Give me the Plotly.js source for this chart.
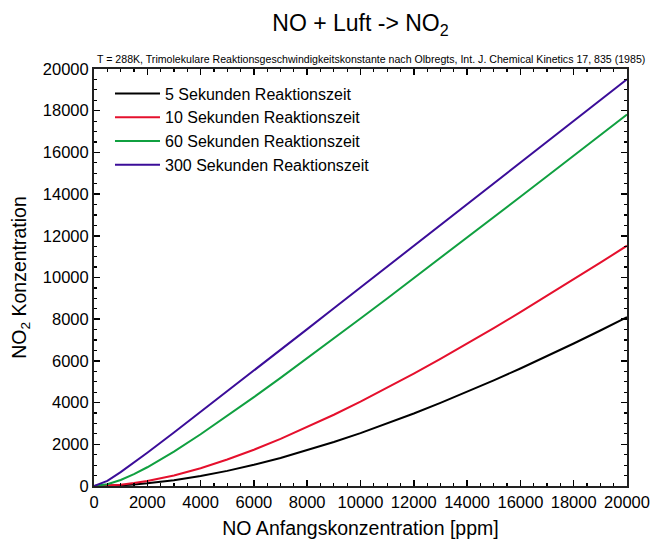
<!DOCTYPE html>
<html>
<head>
<meta charset="utf-8">
<script src="https://cdn.plot.ly/plotly-3.0.1.min.js"></script>
<style>html,body{margin:0;padding:0;background:#fff;}#chart{width:656px;height:545px;}</style>
</head>
<body>
<div id="chart"></div>
<script>
// NO initial concentration [ppm]
const noStart = [0, 500, 1000, 1500, 2000, 3000, 4000, 5000, 6000, 7000, 8000, 9000, 10000,
  11000, 12000, 13000, 14000, 15000, 16000, 17000, 18000, 19000, 20000];
// NO2 concentration, per reaction time
const no2_5s = [0, 8, 33, 73, 127, 278, 479, 726, 1017, 1346, 1711, 2109, 2537,
  2994, 3477, 3985, 4515, 5066, 5637, 6227, 6834, 7457, 8095];
const no2_10s = [0, 16, 64, 139, 239, 508, 855, 1269, 1739, 2257, 2819, 3417, 4048,
  4707, 5392, 6100, 6828, 7574, 8337, 9115, 9906, 10710, 11525];
const no2_60s = [0, 85, 290, 569, 899, 1651, 2480, 3355, 4260, 5185, 6124, 7074, 8031,
  8996, 9965, 10938, 11914, 12893, 13875, 14858, 15843, 16829, 17817];
const no2_300s = [0, 249, 664, 1122, 1597, 2568, 3552, 4541, 5534, 6529, 7525, 8522, 9519,
  10517, 11515, 12514, 13513, 14511, 15510, 16510, 17509, 18508, 19507];
const seriesNames = ["5 Sekunden Reaktionszeit", "10 Sekunden Reaktionszeit",
  "60 Sekunden Reaktionszeit", "300 Sekunden Reaktionszeit"];
const seriesColors = ["#000000", "#e5102d", "#10a040", "#3b0d99"];
const seriesData = [no2_5s, no2_10s, no2_60s, no2_300s];

const traces = seriesData.map((ys, i) => ({
  x: noStart, y: ys, type: "scatter", mode: "lines", name: seriesNames[i],
  line: {color: seriesColors[i], width: 2}
}));

const font = "Arial, 'Liberation Sans', sans-serif";
const axisCommon = {
  range: [0, 20000], dtick: 2000, tick0: 0, tickformat: "d", ticks: "inside", ticklen: 6, tickwidth: 1.5,
  tickcolor: "#000", showline: true, linecolor: "#222", linewidth: 2, mirror: "allticks",
  showgrid: false, zeroline: false, tickfont: {family: font, size: 16.5, color: "#000"},
  minor: {dtick: 500, ticks: "inside", ticklen: 3, tickwidth: 1.2, tickcolor: "#000", showgrid: false}
};

const layout = {
  width: 656, height: 545,
  margin: {l: 94, r: 29, t: 69, b: 59},
  paper_bgcolor: "#fff", plot_bgcolor: "#fff",
  font: {family: font, color: "#000"},
  title: {text: "NO + Luft -> NO<sub>2</sub>", font: {family: font, size: 23, color: "#000"},
    x: 0.5, xref: "paper", xanchor: "center", y: 0.958, yref: "container", yanchor: "middle"},
  xaxis: Object.assign({}, axisCommon, {
    title: {text: "NO Anfangskonzentration [ppm]", font: {family: font, size: 19.5, color: "#000"}, standoff: 12}
  }),
  yaxis: Object.assign({}, axisCommon, {
    title: {text: "NO<sub>2</sub> Konzentration", font: {family: font, size: 19.5, color: "#000"}, standoff: 11}
  }),
  showlegend: true,
  legend: {x: 0.03, y: 0.982, xanchor: "left", yanchor: "top", bgcolor: "rgba(0,0,0,0)",
    font: {family: font, size: 16, color: "#000"}, itemwidth: 45, tracegroupgap: 0},
  annotations: [{
    text: "T = 288K, Trimolekulare Reaktionsgeschwindigkeitskonstante nach Olbregts, Int. J. Chemical Kinetics 17, 835 (1985)",
    xref: "paper", yref: "paper", x: 0, y: 1, xanchor: "left", yanchor: "bottom", xshift: 1, yshift: 2,
    showarrow: false, font: {family: font, size: 10.6, color: "#000"}
  }]
};

Plotly.newPlot("chart", traces, layout, {displayModeBar: false, staticPlot: true});
</script>
</body>
</html>
